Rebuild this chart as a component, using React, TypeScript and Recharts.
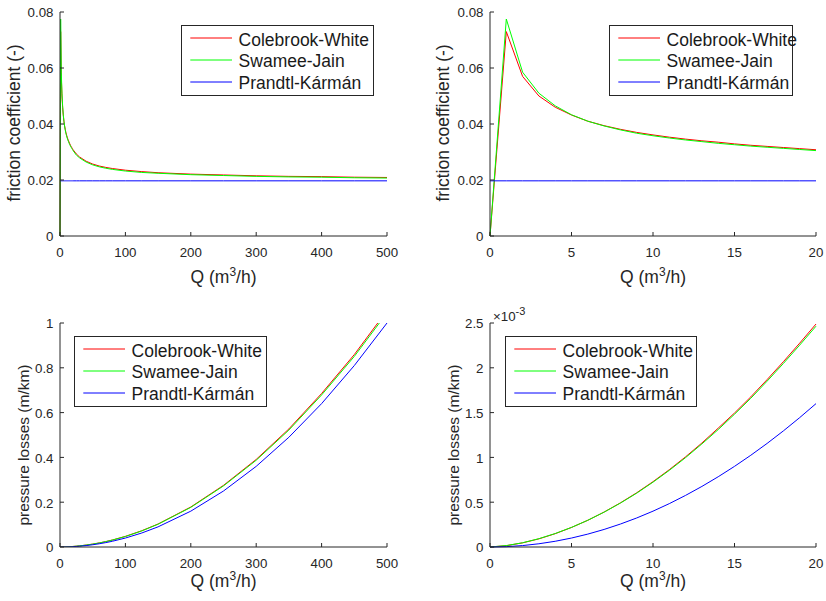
import React from 'react';
import { LineChart, Line, XAxis, YAxis, Legend } from 'recharts';

// flow rate grid (m3/h): unit steps up to 20, coarser steps beyond that
const qFine = [0, 1, 2, 3, 4, 5, 6, 7, 8, 9, 10, 11, 12, 13, 14, 15, 16, 17, 18, 19, 20];
const qWide = [25, 30, 40, 50, 60, 70, 80, 100, 125, 150, 200, 250, 300, 350, 400, 450, 500];

// friction coefficient (-)
const fricCwFine = [0, 0.073, 0.057, 0.05, 0.046, 0.0432, 0.041, 0.0394, 0.0381, 0.037, 0.0361, 0.0353, 0.0346, 0.034, 0.0335, 0.0329, 0.0324, 0.032, 0.0316, 0.0312, 0.0308];
const fricSjFine = [0, 0.0775, 0.0585, 0.051, 0.0465, 0.0433, 0.041, 0.0393, 0.0379, 0.0367, 0.0358, 0.035, 0.0343, 0.0337, 0.0331, 0.0326, 0.0321, 0.0317, 0.0313, 0.0309, 0.0305];
const fricPkFine = [0.0197, 0.0197, 0.0197, 0.0197, 0.0197, 0.0197, 0.0197, 0.0197, 0.0197, 0.0197, 0.0197, 0.0197, 0.0197, 0.0197, 0.0197, 0.0197, 0.0197, 0.0197, 0.0197, 0.0197, 0.0197];
const fricCwWide = [0.0293, 0.0282, 0.0267, 0.0257, 0.025, 0.0245, 0.0241, 0.0235, 0.023, 0.0226, 0.0221, 0.0218, 0.0215, 0.0213, 0.0212, 0.021, 0.0209];
const fricSjWide = [0.0289, 0.0279, 0.0264, 0.0254, 0.0247, 0.0242, 0.0238, 0.0232, 0.0227, 0.0224, 0.0219, 0.0216, 0.0213, 0.0211, 0.021, 0.0208, 0.0207];
const fricPkWide = [0.0197, 0.0197, 0.0197, 0.0197, 0.0197, 0.0197, 0.0197, 0.0197, 0.0197, 0.0197, 0.0197, 0.0197, 0.0197, 0.0197, 0.0197, 0.0197, 0.0197];

// pressure losses, low range in 1e-3 m/km
const lossCwFineMilli = [0, 0.0147, 0.0461, 0.0909, 0.1487, 0.2182, 0.2982, 0.39, 0.4926, 0.6054, 0.7292, 0.8628, 1.0064, 1.1607, 1.3263, 1.4953, 1.6754, 1.8681, 2.0681, 2.2751, 2.4886];
const lossSjFineMilli = [0, 0.0157, 0.0473, 0.0927, 0.1503, 0.2187, 0.2982, 0.389, 0.49, 0.6005, 0.7232, 0.8555, 0.9977, 1.1505, 1.3105, 1.4817, 1.6599, 1.8506, 2.0485, 2.2533, 2.4644];
const lossPkFineMilli = [0, 0.004, 0.016, 0.036, 0.064, 0.1, 0.144, 0.196, 0.256, 0.324, 0.4, 0.484, 0.576, 0.676, 0.784, 0.9, 1.024, 1.156, 1.296, 1.444, 1.6];
// pressure losses, high range in m/km
const lossCwWide = [0.0037, 0.00513, 0.00863, 0.01298, 0.01818, 0.02425, 0.03116, 0.04747, 0.07259, 0.10271, 0.17857, 0.27523, 0.39087, 0.52707, 0.68518, 0.85901, 1.05545];
const lossSjWide = [0.00365, 0.00507, 0.00853, 0.01283, 0.01796, 0.02395, 0.03077, 0.04686, 0.07165, 0.10181, 0.17695, 0.2727, 0.38723, 0.52212, 0.67872, 0.85083, 1.04535];
const lossPkWide = [0.0025, 0.0036, 0.0064, 0.01, 0.0144, 0.0196, 0.0256, 0.04, 0.0625, 0.09, 0.16, 0.25, 0.36, 0.49, 0.64, 0.81, 1.0];

const xTicksWide = [0, 100, 200, 300, 400, 500];
const xTicksFine = [0, 5, 10, 15, 20];
const yTicksFric = [0, 0.02, 0.04, 0.06, 0.08];
const yTicksLossWide = [0, 0.2, 0.4, 0.6, 0.8, 1];
const yTicksLossFine = [0, 0.0005, 0.001, 0.0015, 0.002, 0.0025];

const SERIES = [
  { key: 'cw', name: 'Colebrook-White', color: '#ff0000' },
  { key: 'sj', name: 'Swamee-Jain', color: '#00ff00' },
  { key: 'pk', name: 'Prandtl-Kármán', color: '#0000ff' },
];

type Row = { q: number; cw: number; sj: number; pk: number };

const rows = (q: number[], cw: number[], sj: number[], pk: number[], scale = 1): Row[] =>
  q.map((x, i) => ({ q: x, cw: cw[i] * scale, sj: sj[i] * scale, pk: pk[i] * scale }));

const fricSmall = rows(qFine, fricCwFine, fricSjFine, fricPkFine);
const fricAll = [...fricSmall, ...rows(qWide, fricCwWide, fricSjWide, fricPkWide)];
const lossSmall = rows(qFine, lossCwFineMilli, lossSjFineMilli, lossPkFineMilli, 1e-3);
const lossAll = [...lossSmall, ...rows(qWide, lossCwWide, lossSjWide, lossPkWide)];

const FONT = '"Liberation Sans", Arial, Helvetica, sans-serif';
const AXIS = '#262626';
const W = 413;
const H = 300;

const LegendBox = ({ width }: { width: number }) => (
  <div
    style={{
      width,
      height: 71,
      boxSizing: 'border-box',
      border: `1px solid ${AXIS}`,
      background: '#fff',
      paddingTop: 1.5,
      overflow: 'visible',
    }}
  >
    {SERIES.map(s => (
      <div key={s.key} style={{ display: 'flex', alignItems: 'center', height: 21.8 }}>
        <svg width={50} height={4} style={{ display: 'block', flex: 'none' }}>
          <line x1={8.3} x2={50} y1={2} y2={2} stroke={s.color} strokeWidth={1} />
        </svg>
        <span
          style={{
            marginLeft: 6.6,
            fontSize: 17.5,
            lineHeight: 1,
            fontFamily: FONT,
            color: '#1a1a1a',
            position: 'relative',
            top: 2,
            whiteSpace: 'nowrap',
          }}
        >
          {s.name}
        </span>
      </div>
    ))}
  </div>
);

interface PanelProps {
  data: Row[];
  xMax: number;
  xTicks: number[];
  yMax: number;
  yTicks: number[];
  yFmt?: (v: number) => string;
  yLabel: string;
  left: number;
  right: number;
  top: number;
  bottom: number;
  yLabelX: number;
  yLabelY: number;
  yLabelSize: number;
  xLabelY: number;
  legendLeft: number;
  legendTop: number;
  legendWidth: number;
  clip?: boolean;
  exponent?: boolean;
}

const Panel = ({
  data, xMax, xTicks, yMax, yTicks, yFmt = (v: number) => String(v), yLabel,
  left, right, top, bottom, yLabelX, yLabelY, yLabelSize, xLabelY,
  legendLeft, legendTop, legendWidth, clip = false, exponent = false,
}: PanelProps) => {
  const midX = (left + right) / 2;

  const xTick = (p: any) => (
    <g>
      <line x1={p.x} x2={p.x} y1={bottom} y2={bottom - 4} stroke={AXIS} />
      <text x={p.x} y={bottom + 20.5} textAnchor="middle" fontSize={13.3} fill={AXIS} fontFamily={FONT}>
        {p.payload.value}
      </text>
    </g>
  );

  const yTick = (p: any) => (
    <g>
      <line x1={left} x2={left + 4} y1={p.y} y2={p.y} stroke={AXIS} />
      <text x={left - 6.5} y={p.y} dy="0.4em" textAnchor="end" fontSize={13.3} fill={AXIS} fontFamily={FONT}>
        {yFmt(p.payload.value)}
      </text>
    </g>
  );

  const xLabel = () => (
    <text x={midX} y={xLabelY} textAnchor="middle" fontSize={17.5} fill={AXIS} fontFamily={FONT}>
      Q (m<tspan dy={-7} fontSize={12}>3</tspan><tspan dy={7}>/h)</tspan>
    </text>
  );

  const yLabelEl = () => (
    <g>
      <text
        transform={`translate(${yLabelX},${yLabelY}) rotate(-90)`}
        textAnchor="middle"
        fontSize={yLabelSize}
        fill={AXIS}
        fontFamily={FONT}
      >
        {yLabel}
      </text>
      {exponent && (
        <text x={left + 3} y={top - 2} fontSize={13.3} fill={AXIS} fontFamily={FONT}>
          ×10<tspan dy={-6} fontSize={11}>-3</tspan>
        </text>
      )}
    </g>
  );

  return (
    <LineChart
      width={W}
      height={H}
      data={data}
      margin={{ top, right: W - right, bottom: 0, left: 0 }}
    >
      <XAxis
        type="number"
        dataKey="q"
        domain={[0, xMax]}
        ticks={xTicks}
        interval={0}
        height={H - bottom}
        tickLine={false}
        axisLine={{ stroke: AXIS }}
        tick={xTick}
        label={xLabel}
      />
      <YAxis
        type="number"
        domain={[0, yMax]}
        ticks={yTicks}
        interval={0}
        width={left}
        allowDataOverflow={clip}
        tickLine={false}
        axisLine={{ stroke: AXIS }}
        tick={yTick}
        label={yLabelEl}
      />
      {SERIES.map(s => (
        <Line
          key={s.key}
          type="linear"
          dataKey={s.key}
          name={s.name}
          stroke={s.color}
          strokeWidth={1}
          dot={false}
          activeDot={false}
          isAnimationActive={false}
        />
      ))}
      <Legend
        layout="vertical"
        align="center"
        verticalAlign="middle"
        content={() => <LegendBox width={legendWidth} />}
        wrapperStyle={{ left: legendLeft, top: legendTop, width: legendWidth, height: 71 }}
      />
    </LineChart>
  );
};

const milli = (v: number) => String(parseFloat((v * 1000).toPrecision(6)));

export default function App() {
  return (
    <div style={{ position: 'absolute', left: 0, top: 0, width: 826, height: 601, background: '#fff' }}>
      <div style={{ position: 'absolute', left: 0, top: 0 }}>
        <Panel
          data={fricAll} xMax={500} xTicks={xTicksWide} yMax={0.08} yTicks={yTicksFric}
          yLabel="friction coefficient (-)" left={60} right={387} top={12} bottom={236}
          yLabelX={20} yLabelY={123} yLabelSize={17.5} xLabelY={283}
          legendLeft={181} legendTop={25} legendWidth={193}
        />
      </div>
      <div style={{ position: 'absolute', left: 413, top: 0 }}>
        <Panel
          data={fricSmall} xMax={20} xTicks={xTicksFine} yMax={0.08} yTicks={yTicksFric}
          yLabel="friction coefficient (-)" left={77} right={403} top={12} bottom={236}
          yLabelX={36} yLabelY={123} yLabelSize={17.5} xLabelY={283}
          legendLeft={196} legendTop={25} legendWidth={184}
        />
      </div>
      <div style={{ position: 'absolute', left: 0, top: 300 }}>
        <Panel
          data={lossAll} xMax={500} xTicks={xTicksWide} yMax={1} yTicks={yTicksLossWide}
          yLabel="pressure losses (m/km)" left={60} right={387} top={23} bottom={247}
          yLabelX={28.5} yLabelY={145} yLabelSize={15.5} xLabelY={286.5}
          legendLeft={74} legendTop={36} legendWidth={193} clip
        />
      </div>
      <div style={{ position: 'absolute', left: 413, top: 300 }}>
        <Panel
          data={lossSmall} xMax={20} xTicks={xTicksFine} yMax={0.0025} yTicks={yTicksLossFine}
          yFmt={milli} yLabel="pressure losses (m/km)" left={77} right={403} top={23} bottom={247}
          yLabelX={45.5} yLabelY={145} yLabelSize={15.5} xLabelY={286.5}
          legendLeft={92} legendTop={36} legendWidth={192} exponent
        />
      </div>
    </div>
  );
}
